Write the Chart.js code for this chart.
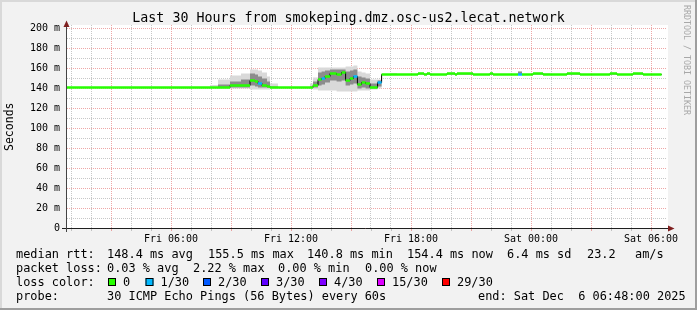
<!DOCTYPE html>
<html>
<head>
<meta charset="utf-8">
<script src="https://cdn.jsdelivr.net/npm/chart.js@4.4.1/dist/chart.umd.min.js"></script>
<style>
  html, body { margin: 0; padding: 0; background: #f2f2f2; }
  canvas { display: block; }
</style>
</head>
<body>
<canvas id="chart" width="697" height="310"></canvas>
<script>
// jam sejak Fri 00:00 (grafik: Fri 00:48 .. Sat 06:48)
const hours = [
  0.8, 7.95, 8.35, 8.95, 9.5, 9.95, 10.2, 10.35, 10.55, 10.8, 10.95, 11.35,
  12.95, 13.1, 13.35, 13.53, 13.7, 13.95, 14.28, 14.53, 14.73, 14.95, 15.12, 15.32, 15.53, 15.73, 15.95, 16.33, 16.53,
  16.95, 17.3, 18.35, 18.65, 18.8, 18.95, 19.8, 20.2, 20.3, 21.1, 21.95, 22.1, 23.35, 23.55, 24.1, 24.6, 24.95, 25.8, 26.45, 27.95, 28.3, 29.1, 29.6, 30.53
];
// median rtt (ms)
const medianRtt = [
  141, 141, 141, 143, 143, 148, 147, 145, 143, 142, 141, 141,
  141, 143, 149, 150, 152, 155, 154, 156, 148, 150, 152, 144, 146, 145, 141, 146, 154,
  154, 154, 155, 154, 155, 154, 155, 154, 155, 154, 155, 154, 154, 154, 155, 154, 154, 155, 154, 155, 154, 155, 154, 154
];
// index warna loss (0 = 0/30, 1 = 1/30 ...)
const lossIdx = [
  0, 0, 0, 0, 0, 0, 0, 1, 0, 0, 0, 0,
  0, 0, 0, 1, 0, 0, 0, 0, 0, 0, 1, 0, 0, 0, 0, 1, 0,
  0, 0, 0, 0, 0, 0, 0, 0, 0, 0, 0, 0, 1, 0, 0, 0, 0, 0, 0, 0, 0, 0, 0, 0
];
// smoke luar (min..max ping)
const smokeLo = [
  141, 140.5, 140, 140, 140, 139, 139, 139, 139, 139, 140, 141,
  140, 139, 138, 138, 138, 138, 137, 137, 137, 137, 137, 138, 138, 138, 139, 140, 154,
  154, 154, 154, 154, 154, 154, 154, 154, 154, 154, 154, 154, 154, 154, 154, 154, 154, 154, 154, 154, 154, 154, 154, 154
];
const smokeHi = [
  141, 143.5, 149, 153, 155, 159, 159, 158, 156, 152, 145, 141,
  145, 151, 161, 161, 161, 161, 161, 161, 162, 162, 163, 157, 156, 155, 149, 149, 154,
  155.5, 154, 156, 155, 156, 154, 156, 155, 156, 154, 156, 154, 157, 154, 156, 155.5, 154, 156, 154, 156, 154, 156, 154, 154
];
// smoke dalam (lebih gelap)
const coreLo = [
  141, 141, 140.5, 141, 141, 143, 142, 141, 141, 141, 141, 141,
  141, 141, 143, 144, 146, 148, 147, 148, 143, 144, 145, 140, 141, 140, 140, 142, 154,
  154, 154, 154, 154, 154, 154, 154, 154, 154, 154, 154, 154, 154, 154, 154, 154, 154, 154, 154, 154, 154, 154, 154, 154
];
const coreHi = [
  141, 141, 144, 147, 149, 155, 154, 152, 150, 147, 142, 141,
  142, 147, 156, 157, 158, 159, 159, 159, 157, 158, 159, 152, 151, 150, 145, 148, 154,
  154, 154, 155, 154, 155, 154, 155, 154, 155, 154, 155, 154, 157, 154, 155, 154, 154, 155, 154, 155, 154, 155, 154, 154
];

const xTickHours = [6, 12, 18, 24, 30];
const xTickLabels = ['Fri 06:00', 'Fri 12:00', 'Fri 18:00', 'Sat 00:00', 'Sat 06:00'];

const lossLabels = ['0', '1/30', '2/30', '3/30', '4/30', '15/30', '29/30'];
const lossColors = ['#26ff00', '#00b8ff', '#0059ff', '#5e00ff', '#7e00ff', '#dd00ff', '#ff0000'];

const rttStats = ['148.4 ms avg', '155.5 ms max', '140.8 ms min', '154.4 ms now', '6.4 ms sd', '23.2', 'am/s'];
const lossStats = ['0.03 % avg', '2.22 % max', '0.00 % min', '0.00 % now'];
const probeText = '30 ICMP Echo Pings (56 Bytes) every 60s';
const endText = 'end: Sat Dec  6 06:48:00 2025';
const titleText = 'Last 30 Hours from smokeping.dmz.osc-us2.lecat.network';

const MONO = '"DejaVu Sans Mono", monospace';
const MINOR = 'rgba(143,143,143,0.5)';
const MAJOR = 'rgba(222,79,79,0.5)';

// potongan horizontal median, supaya garis tegak bisa hitam
const medianPieces = [];
for (let i = 0; i < hours.length - 1; i++) {
  medianPieces.push({x: hours[i], y: medianRtt[i]}, {x: hours[i + 1], y: medianRtt[i]}, {x: hours[i + 1], y: null});
}
const pts = arr => arr.map((v, i) => ({x: hours[i], y: v}));

function text(ctx, str, x, y, size, align) {
  ctx.font = size + 'px ' + MONO;
  ctx.textAlign = align || 'left';
  ctx.textBaseline = 'middle';
  ctx.fillText(str, x, y);
}

const rrdFrame = {
  id: 'rrdFrame',
  beforeDraw(chart) {
    const {ctx, chartArea: a} = chart;
    ctx.save();
    ctx.fillStyle = '#f2f2f2';
    ctx.fillRect(0, 0, 697, 310);
    ctx.fillStyle = '#d9d9d9';
    ctx.fillRect(0, 0, 697, 2);
    ctx.fillRect(0, 0, 2, 310);
    ctx.fillStyle = '#9e9e9e';
    ctx.fillRect(695, 0, 2, 310);
    ctx.fillRect(0, 308, 697, 2);
    ctx.fillStyle = '#ffffff';
    ctx.fillRect(a.left, a.top, a.right - a.left + 1, a.bottom - a.top);
    ctx.restore();
  },
  afterDraw(chart) {
    const {ctx, chartArea: a} = chart;
    const xs = chart.scales.x;
    ctx.save();
    // tick kecil di bawah sumbu x
    for (let h = 1; h <= 30; h++) {
      const px = Math.round(xs.getPixelForValue(h)) + 0.5;
      ctx.strokeStyle = h % 3 === 0 ? MAJOR : MINOR;
      ctx.beginPath(); ctx.moveTo(px, a.bottom); ctx.lineTo(px, a.bottom + 2.5); ctx.stroke();
    }
    // sumbu
    ctx.lineWidth = 1;
    ctx.strokeStyle = '#1f1f1f';
    ctx.beginPath(); ctx.moveTo(62, 228.5); ctx.lineTo(669, 228.5); ctx.stroke();
    ctx.strokeStyle = '#444';
    ctx.beginPath(); ctx.moveTo(66.5, 232); ctx.lineTo(66.5, 26); ctx.stroke();
    // panah
    ctx.fillStyle = '#7f1f1f';
    ctx.beginPath(); ctx.moveTo(66.5, 20.5); ctx.lineTo(63.5, 27); ctx.lineTo(69.5, 27); ctx.closePath(); ctx.fill();
    ctx.beginPath(); ctx.moveTo(674.5, 228.5); ctx.lineTo(668, 225.5); ctx.lineTo(668, 231.5); ctx.closePath(); ctx.fill();

    ctx.fillStyle = '#000';
    text(ctx, titleText, 348.5, 19, 13.3, 'center');

    // legenda
    const fs = 11.9;
    text(ctx, 'median rtt:', 16, 254.5, fs);
    [107, 208, 307, 407, 507, 587, 635].forEach((x, i) => text(ctx, rttStats[i], x, 254.5, fs));
    text(ctx, 'packet loss:', 16, 268.5, fs);
    [107, 193, 278, 365].forEach((x, i) => text(ctx, lossStats[i], x, 268.5, fs));
    text(ctx, 'loss color:', 16, 282.5, fs);
    [108, 145.5, 203, 261, 319, 377, 442].forEach((x, i) => {
      ctx.fillStyle = lossColors[i];
      ctx.fillRect(x, 278, 8, 8);
      ctx.strokeStyle = '#000';
      ctx.strokeRect(x + 0.5, 278.5, 7, 7);
      ctx.fillStyle = '#000';
      text(ctx, lossLabels[i], x + 15, 282.5, fs);
    });
    text(ctx, 'probe:', 16, 296.5, fs);
    text(ctx, probeText, 107, 296.5, fs);
    text(ctx, endText, 478, 296.5, fs);

    // watermark tegak
    ctx.translate(686.5, 5);
    ctx.rotate(Math.PI / 2);
    ctx.fillStyle = '#a8a8a8';
    text(ctx, 'RRDTOOL / TOBI OETIKER', 0, 0, 8.3);
    ctx.restore();
  }
};

Chart.defaults.font.family = MONO;

new Chart(document.getElementById('chart'), {
  type: 'line',
  data: {
    datasets: [
      {
        label: 'median',
        data: medianPieces,
        borderWidth: 2.5,
        borderColor: lossColors[0],
        borderCapStyle: 'butt',
        spanGaps: false,
        segment: { borderColor: c => lossColors[lossIdx[Math.floor(c.p0DataIndex / 3)]] }
      },
      { label: 'median step', data: pts(medianRtt), stepped: true, borderColor: '#000', borderWidth: 1 },
      { label: 'core hi', data: pts(coreHi), stepped: true, borderWidth: 0, borderColor: 'transparent', fill: 3, backgroundColor: '#8c8c8c' },
      { label: 'core lo', data: pts(coreLo), stepped: true, borderWidth: 0, borderColor: 'transparent' },
      { label: 'smoke hi', data: pts(smokeHi), stepped: true, borderWidth: 0, borderColor: 'transparent', fill: 5, backgroundColor: '#d9d9d9' },
      { label: 'smoke lo', data: pts(smokeLo), stepped: true, borderWidth: 0, borderColor: 'transparent' }
    ]
  },
  options: {
    responsive: false,
    animation: false,
    devicePixelRatio: 1,
    layout: { padding: { left: 0, top: 25, right: 30, bottom: 61.5 } },
    elements: { point: { radius: 0 }, line: { tension: 0 } },
    plugins: { legend: { display: false }, tooltip: { enabled: false }, title: { display: false } },
    scales: {
      x: {
        type: 'linear',
        min: 0.8,
        max: 30.8,
        afterFit: s => { s.height = 20; },
        afterBuildTicks: s => { s.ticks = Array.from({length: 30}, (_, i) => ({value: i + 1})); },
        ticks: {
          autoSkip: false,
          maxRotation: 0,
          padding: 5,
          color: '#000',
          font: { size: 10, family: MONO },
          callback: v => { const i = xTickHours.indexOf(v); return i >= 0 ? xTickLabels[i] : ''; }
        },
        grid: { drawTicks: false, color: c => (c.tick && c.tick.value % 3 === 0) ? MAJOR : MINOR },
        border: { display: false, dash: [1, 1] }
      },
      y: {
        min: 0,
        max: 203.5,
        afterFit: s => { s.width = 67; },
        afterBuildTicks: s => { s.ticks = Array.from({length: 21}, (_, i) => ({value: i * 10})); },
        ticks: {
          autoSkip: false,
          padding: 7,
          color: '#000',
          font: { size: 10, family: MONO },
          callback: v => v % 20 === 0 ? (v === 0 ? '0' : v + ' m') : ''
        },
        grid: { drawTicks: false, color: c => (c.tick && c.tick.value % 20 === 0) ? MAJOR : MINOR },
        border: { display: false, dash: [1, 1] },
        title: { display: true, text: 'Seconds', color: '#000', font: { size: 11.5, family: MONO }, padding: { top: 3, bottom: 0 } }
      }
    }
  },
  plugins: [rrdFrame]
});
</script>
</body>
</html>
